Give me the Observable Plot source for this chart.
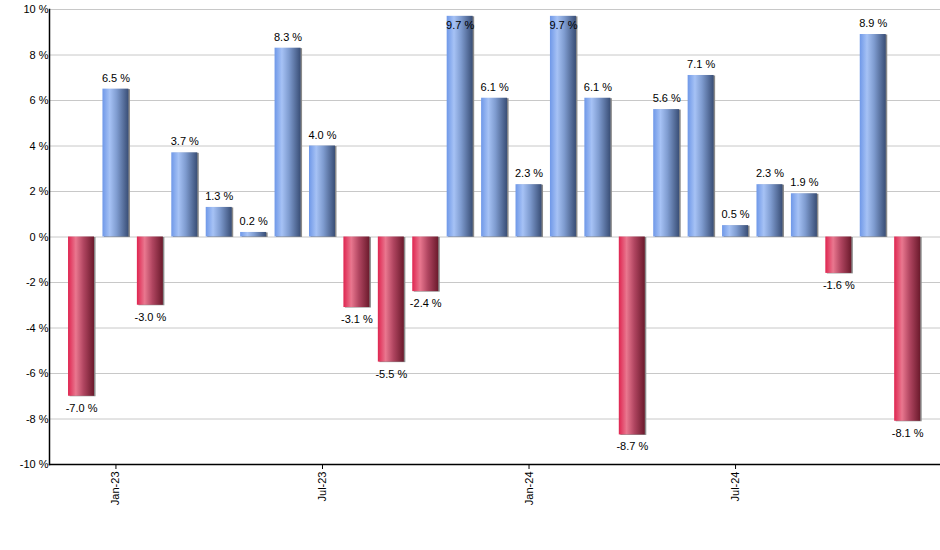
<!DOCTYPE html>
<html>
<head>
<meta charset="utf-8">
<script src="https://cdn.jsdelivr.net/npm/d3@7"></script>
<script src="https://cdn.jsdelivr.net/npm/@observablehq/plot@0.6"></script>
<style>
  html, body { margin: 0; padding: 0; background: #fff; }
</style>
</head>
<body>
<div id="chart"></div>
<script>
const months = ["Dec-22","Jan-23","Feb-23","Mar-23","Apr-23","May-23","Jun-23","Jul-23","Aug-23","Sep-23","Oct-23","Nov-23","Dec-23",
  "Jan-24","Feb-24","Mar-24","Apr-24","May-24","Jun-24","Jul-24","Aug-24","Sep-24","Oct-24","Nov-24","Dec-24"];
const values = [-7.0, 6.5, -3.0, 3.7, 1.3, 0.2, 8.3, 4.0, -3.1, -5.5, -2.4, 9.7, 6.1,
  2.3, 9.7, 6.1, -8.7, 5.6, 7.1, 0.5, 2.3, 1.9, -1.6, 8.9, -8.1];
const yTicks = [-10, -8, -6, -4, -2, 0, 2, 4, 6, 8, 10];
const xTicks = ["Jan-23", "Jul-23", "Jan-24", "Jul-24"];

const data = months.map((m, i) => ({month: m, value: values[i]}));
const pos = data.filter(d => d.value >= 0);
const neg = data.filter(d => d.value < 0);
const fmt = d => d.value.toFixed(1) + " %";

const chart = Plot.plot({
  width: 940,
  height: 550,
  marginLeft: 49,
  marginRight: 0,
  marginTop: 9,
  marginBottom: 86,
  style: {fontFamily: "'Liberation Sans', Arial, sans-serif", fontSize: "11px", color: "#000", background: "#fff"},
  x: {type: "band", domain: months, range: [59.6, 928.6], padding: 0.245, round: false, axis: null},
  y: {domain: [-10, 10], axis: null},
  marks: [
    Plot.gridY(yTicks, {stroke: "#c8c8c8", strokeOpacity: 1}),
    Plot.barY(data, {x: "month", y: "value", fill: "#8a8a8a", dx: 1.5, dy: 0.5}),
    Plot.barY(pos, {x: "month", y: "value", fill: "#6f98e8"}),
    Plot.barY(neg, {x: "month", y: "value", fill: "#e0284f"}),
    Plot.frame({anchor: "left", stroke: "#000", strokeWidth: 1.5}),
    Plot.frame({anchor: "bottom", stroke: "#000", strokeWidth: 1.5}),
    Plot.axisY(yTicks, {tickSize: 0, tickPadding: 1, tickFormat: d => d + " %", fontSize: 11, label: null}),
    Plot.axisX(xTicks, {tickSize: 5, tickPadding: 2, tickRotate: -90, stroke: "#000", fontSize: 11, label: null}),
    Plot.text(pos.filter(d => d.value < 9.5), {x: "month", y: "value", text: fmt, dy: -11, fontSize: 11, fill: "#000"}),
    Plot.text(pos.filter(d => d.value >= 9.5), {x: "month", y: "value", text: fmt, dy: 9, fontSize: 11, fill: "#000"}),
    Plot.text(neg, {x: "month", y: "value", text: fmt, dy: 12, fontSize: 11, fill: "#000"})
  ]
});

const svg = d3.select(chart);
const defs = svg.insert("defs", ":first-child");
function grad(id, stops) {
  const g = defs.append("linearGradient").attr("id", id).attr("x1", 0).attr("x2", 1).attr("y1", 0).attr("y2", 0);
  stops.forEach(([o, c]) => g.append("stop").attr("offset", o).attr("stop-color", c));
}
grad("gb", [[0, "#6f98e8"], [0.28, "#a6c2f5"], [0.55, "#7f9cd0"], [1, "#394e76"]]);
grad("gr", [[0, "#df2550"], [0.3, "#e9778f"], [0.6, "#b04560"], [1, "#6b1a2c"]]);
svg.selectAll("g[fill='#6f98e8']").attr("fill", "url(#gb)");
svg.selectAll("g[fill='#e0284f']").attr("fill", "url(#gr)");

document.getElementById("chart").appendChild(chart);
</script>
</body>
</html>
